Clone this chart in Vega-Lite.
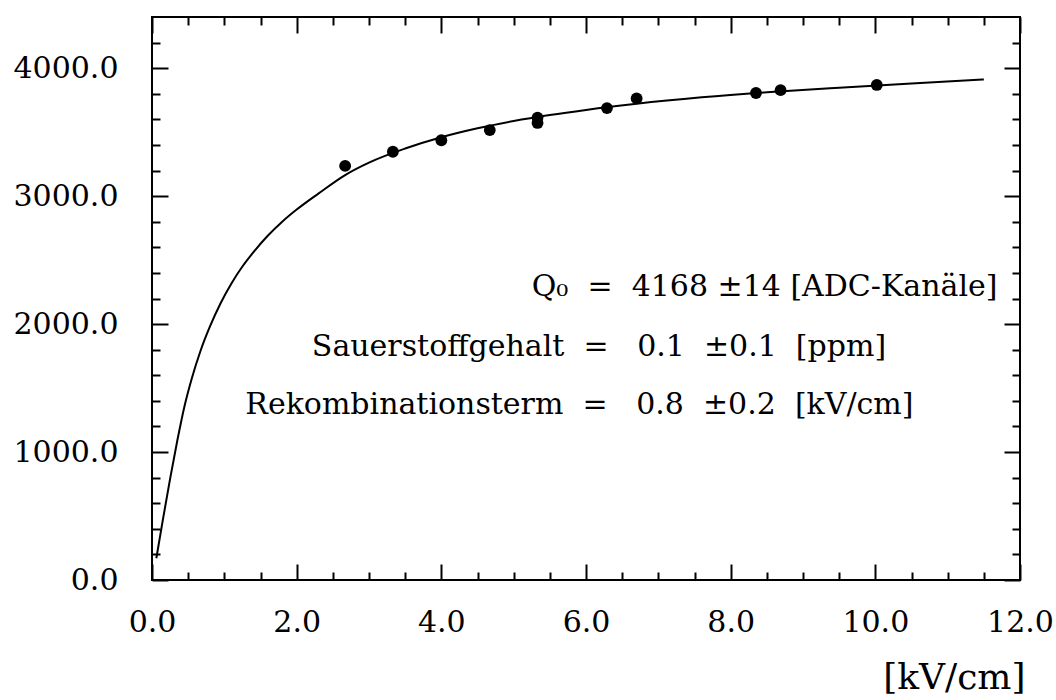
{
  "$schema": "https://vega.github.io/schema/vega-lite/v6.json",
  "width": 868,
  "height": 563,
  "autosize": "none",
  "padding": {"left": 152, "top": 17, "right": 36, "bottom": 120},
  "background": "white",
  "config": {
    "view": {"stroke": "black", "strokeWidth": 2},
    "font": "DejaVu Serif"
  },
  "datasets": {
    "points": [
      {"E": 2.67, "Q": 3236},
      {"E": 3.33, "Q": 3347},
      {"E": 4.0, "Q": 3437},
      {"E": 4.67, "Q": 3516},
      {"E": 5.33, "Q": 3614},
      {"E": 5.33, "Q": 3572},
      {"E": 6.29, "Q": 3688},
      {"E": 6.7, "Q": 3764},
      {"E": 8.35, "Q": 3806},
      {"E": 8.69, "Q": 3828},
      {"E": 10.02, "Q": 3869}
    ],
    "curve": [
      {"E": 0.06, "Q": 170},
      {"E": 0.15, "Q": 470},
      {"E": 0.25, "Q": 790},
      {"E": 0.35, "Q": 1090},
      {"E": 0.45, "Q": 1360},
      {"E": 0.55, "Q": 1575},
      {"E": 0.67, "Q": 1790},
      {"E": 0.8, "Q": 1980},
      {"E": 0.95, "Q": 2165},
      {"E": 1.1, "Q": 2320},
      {"E": 1.25, "Q": 2450},
      {"E": 1.4, "Q": 2560},
      {"E": 1.6, "Q": 2690},
      {"E": 1.8, "Q": 2800},
      {"E": 2.0, "Q": 2895},
      {"E": 2.3, "Q": 3020},
      {"E": 2.67, "Q": 3165},
      {"E": 3.0, "Q": 3262},
      {"E": 3.5, "Q": 3372},
      {"E": 4.0, "Q": 3460},
      {"E": 4.5, "Q": 3530},
      {"E": 5.0, "Q": 3587},
      {"E": 5.5, "Q": 3634},
      {"E": 6.0, "Q": 3674},
      {"E": 6.7, "Q": 3722},
      {"E": 7.6, "Q": 3772},
      {"E": 8.5, "Q": 3812},
      {"E": 9.5, "Q": 3848},
      {"E": 10.5, "Q": 3881},
      {"E": 11.5, "Q": 3912}
    ],
    "notes": [
      {"x": 5.25, "y": 2290, "label": "Q₀\u00a0 =\u00a0 4168 ±14 [ADC-Kanäle]"},
      {"x": 2.21, "y": 1821, "label": "Sauerstoffgehalt\u00a0 =\u00a0\u00a0 0.1\u00a0 ±0.1\u00a0 [ppm]"},
      {"x": 1.29, "y": 1368, "label": "Rekombinationsterm\u00a0 =\u00a0\u00a0 0.8\u00a0 ±0.2\u00a0 [kV/cm]"}
    ]
  },
  "layer": [
    {
      "data": {"name": "curve"},
      "mark": {"type": "line", "color": "black", "strokeWidth": 2, "interpolate": "monotone"},
      "encoding": {
        "x": {
          "field": "E", "type": "quantitative",
          "scale": {"domain": [0, 12], "nice": false, "zero": false},
          "axis": {
            "orient": "bottom",
            "values": [0,0.5,1,1.5,2,2.5,3,3.5,4,4.5,5,5.5,6,6.5,7,7.5,8,8.5,9,9.5,10,10.5,11,11.5,12],
            "labelExpr": "datum.value % 2 === 0 ? format(datum.value, '.1f') : ''",
            "tickSize": {"condition": {"test": "datum.value % 2 === 0", "value": -16}, "value": -8},
            "tickColor": "black", "tickWidth": 2,
            "domain": false, "grid": false,
            "labelFont": "DejaVu Serif", "labelFontSize": 30, "labelColor": "black",
            "labelPadding": 43, "labelOverlap": false, "labelFlush": false, "labelBound": false,
            "title": "[kV/cm]", "titleFont": "DejaVu Serif", "titleFontSize": 36,
            "titleFontWeight": "normal", "titleColor": "black",
            "titleAlign": "right", "titleBaseline": "top", "titleX": 873, "titleY": 80, "titleAngle": 0
          }
        },
        "y": {
          "field": "Q", "type": "quantitative",
          "scale": {"domain": [0, 4400], "nice": false, "zero": false},
          "axis": {
            "orient": "left",
            "values": [0,200,400,600,800,1000,1200,1400,1600,1800,2000,2200,2400,2600,2800,3000,3200,3400,3600,3800,4000,4200],
            "labelExpr": "datum.value % 1000 === 0 ? format(datum.value, '.1f') : ''",
            "tickSize": {"condition": {"test": "datum.value % 1000 === 0", "value": -16}, "value": -8},
            "tickColor": "black", "tickWidth": 2,
            "domain": false, "grid": false,
            "labelFont": "DejaVu Serif", "labelFontSize": 30, "labelColor": "black",
            "labelPadding": 50, "labelOverlap": false, "labelFlush": false, "labelBound": false,
            "title": null
          }
        }
      }
    },
    {
      "data": {"name": "points"},
      "mark": {"type": "circle", "color": "black", "opacity": 1, "size": 140},
      "encoding": {
        "x": {
          "field": "E", "type": "quantitative",
          "scale": {"domain": [0, 12], "nice": false, "zero": false},
          "axis": {
            "orient": "top",
            "values": [0,0.5,1,1.5,2,2.5,3,3.5,4,4.5,5,5.5,6,6.5,7,7.5,8,8.5,9,9.5,10,10.5,11,11.5,12],
            "labels": false,
            "tickSize": {"condition": {"test": "datum.value % 2 === 0", "value": -16}, "value": -8},
            "tickColor": "black", "tickWidth": 2,
            "domain": false, "grid": false, "title": null
          }
        },
        "y": {
          "field": "Q", "type": "quantitative",
          "scale": {"domain": [0, 4400], "nice": false, "zero": false},
          "axis": {
            "orient": "right",
            "values": [0,200,400,600,800,1000,1200,1400,1600,1800,2000,2200,2400,2600,2800,3000,3200,3400,3600,3800,4000,4200],
            "labels": false,
            "tickSize": {"condition": {"test": "datum.value % 1000 === 0", "value": -16}, "value": -8},
            "tickColor": "black", "tickWidth": 2,
            "domain": false, "grid": false, "title": null
          }
        }
      }
    },
    {
      "data": {"name": "notes"},
      "mark": {"type": "text", "align": "left", "baseline": "middle", "fontSize": 30, "font": "DejaVu Serif", "color": "black"},
      "encoding": {
        "x": {"field": "x", "type": "quantitative", "axis": null},
        "y": {"field": "y", "type": "quantitative", "axis": null},
        "text": {"field": "label"}
      }
    }
  ],
  "resolve": {"axis": {"x": "independent", "y": "independent"}}
}
